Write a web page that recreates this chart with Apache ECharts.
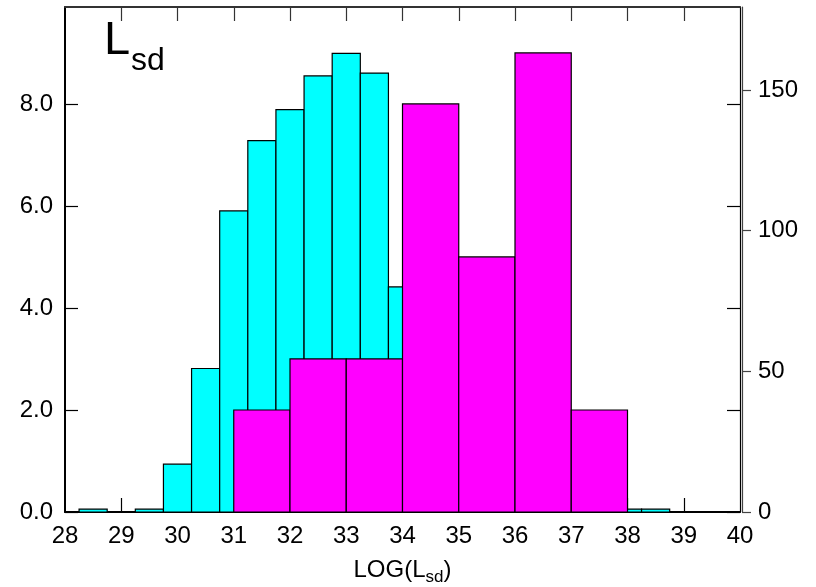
<!DOCTYPE html>
<html>
<head>
<meta charset="utf-8">
<script src="https://cdn.jsdelivr.net/npm/echarts@6/dist/echarts.min.js"></script>
<style>
  html, body { margin: 0; padding: 0; background: #fff; }
  #chart { width: 816px; height: 587px; }
</style>
</head>
<body>
<div id="chart"></div>
<script>
// cyan histogram: bin centres (width 0.5) and counts, right axis
var cyanCenters = [28.5, 29.0, 29.5, 30.0, 30.5, 31.0, 31.5, 32.0, 32.5, 33.0, 33.5, 34.0, 34.5, 35.0, 35.5, 36.0, 36.5, 37.0, 37.5, 38.0, 38.5];
var cyanCounts = [1, 0, 1, 17, 51, 107, 132, 143, 155, 163, 156, 80, 50, 30, 18, 10, 6, 3, 2, 1, 1];
// magenta histogram: bin centres (width 1) and values, left axis
var magentaCenters = [31.5, 32.5, 33.5, 34.5, 35.5, 36.5, 37.5];
var magentaValues = [2, 3, 3, 8, 5, 9, 2];
// tick labels
var xTicks = [29, 30, 31, 32, 33, 34, 35, 36, 37, 38, 39];
var leftTicks = [0, 2, 4, 6, 8];
var rightTicks = [0, 50, 100, 150];

(function () {
  var myChart = echarts.init(document.getElementById('chart'));
  var font = 'Liberation Sans, Arial, sans-serif';

  function pairs(xs, ys) {
    var out = [];
    for (var i = 0; i < xs.length; i++) {
      if (ys[i] > 0) out.push([xs[i], ys[i]]);
    }
    return out;
  }

  // draw one histogram bin as a rectangle through the axes
  function binRenderer(width, fill) {
    return function (params, api) {
      var x = api.value(0);
      var v = api.value(1);
      var p0 = api.coord([x - width / 2, v]);
      var p1 = api.coord([x + width / 2, 0]);
      return {
        type: 'rect',
        shape: { x: p0[0], y: p0[1], width: p1[0] - p0[0], height: p1[1] - p0[1] },
        style: { fill: fill, stroke: '#000', lineWidth: 1.2 }
      };
    };
  }

  var option = {
    animation: false,
    backgroundColor: '#fff',
    grid: { left: 65, right: 76, top: 7, bottom: 75, outerBoundsMode: 'none' },
    graphic: [
      { type: 'text', left: 104, top: 18, style: { text: 'L', font: '47px ' + font, fill: '#000' } },
      { type: 'text', left: 131, top: 45, style: { text: 'sd', font: '32px ' + font, fill: '#000' } }
    ],
    xAxis: [{
      type: 'value',
      min: 28,
      max: 40,
      interval: 1,
      position: 'bottom',
      name: 'LOG(L{sub|sd})',
      nameLocation: 'middle',
      nameGap: 43,
      nameTextStyle: {
        color: '#000',
        fontSize: 24,
        fontFamily: font,
        rich: { sub: { fontSize: 17, fontFamily: font, color: '#000', padding: [14, 0, 0, 0] } }
      },
      axisLine: { show: true, onZero: false, lineStyle: { color: '#000', width: 2 } },
      axisTick: { show: true, inside: true, length: 14, customValues: xTicks, lineStyle: { color: '#000', width: 1.2 } },
      axisLabel: { color: '#000', fontSize: 24, fontFamily: font, margin: 12 },
      splitLine: { show: false }
    }, {
      // top frame with inward ticks, same scale as the bottom axis
      type: 'value',
      min: 28,
      max: 40,
      interval: 1,
      position: 'top',
      axisLine: { show: true, onZero: false, lineStyle: { color: '#333', width: 2 } },
      axisTick: { show: true, inside: true, length: 14, customValues: xTicks, lineStyle: { color: '#333', width: 1.2 } },
      axisLabel: { show: false },
      splitLine: { show: false }
    }],
    yAxis: [{
      type: 'value',
      min: 0,
      max: 9.9,
      position: 'left',
      axisLine: { show: true, lineStyle: { color: '#000', width: 2 } },
      axisTick: { show: true, inside: true, length: 13, customValues: leftTicks, lineStyle: { color: '#000', width: 1.2 } },
      axisLabel: {
        customValues: leftTicks,
        color: '#000',
        fontSize: 24,
        fontFamily: font,
        margin: 12,
        padding: [8, 0, 0, 0],
        formatter: function (v) { return v.toFixed(1); }
      },
      splitLine: { show: false }
    }, {
      type: 'value',
      min: 0,
      max: 179.5,
      position: 'right',
      offset: 2,
      axisLine: { show: true, lineStyle: { color: '#444', width: 1.2 } },
      axisTick: { show: true, inside: false, length: 9, customValues: rightTicks, lineStyle: { color: '#444', width: 1.2 } },
      axisLabel: {
        customValues: rightTicks,
        color: '#000',
        fontSize: 24,
        fontFamily: font,
        margin: 16,
        padding: [8, 0, 0, 0]
      },
      splitLine: { show: false }
    }, {
      // left scale mirrored on the right edge
      type: 'value',
      min: 0,
      max: 9.9,
      position: 'right',
      offset: 0,
      axisLine: { show: true, lineStyle: { color: '#000', width: 1.2 } },
      axisTick: { show: true, inside: true, length: 13, customValues: leftTicks, lineStyle: { color: '#000', width: 1.2 } },
      axisLabel: { show: false },
      splitLine: { show: false }
    }],
    series: [{
      name: 'cyan',
      type: 'custom',
      xAxisIndex: 0,
      yAxisIndex: 1,
      clip: true,
      z: 2,
      renderItem: binRenderer(0.5, '#00ffff'),
      data: pairs(cyanCenters, cyanCounts)
    }, {
      name: 'magenta',
      type: 'custom',
      xAxisIndex: 0,
      yAxisIndex: 0,
      clip: true,
      z: 3,
      renderItem: binRenderer(1, '#ff00ff'),
      data: pairs(magentaCenters, magentaValues)
    }]
  };

  myChart.setOption(option);
  window.addEventListener('resize', function () {
    myChart.resize();
  });
})();
</script>
</body>
</html>
